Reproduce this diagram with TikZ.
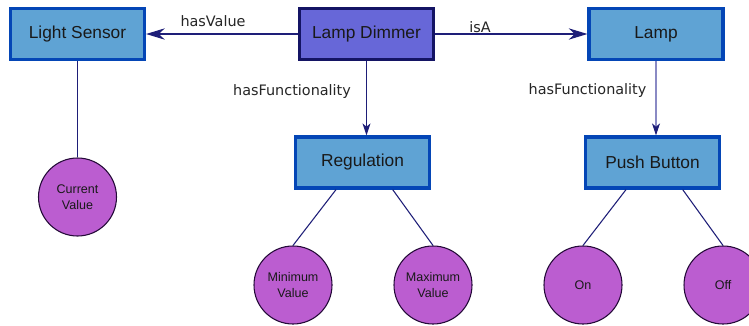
\documentclass[tikz,border=0pt]{standalone}
\usepackage{fontspec}
\setmainfont{Liberation Sans}
\newfontfamily\labelfont{DejaVu Sans}
\usetikzlibrary{arrows.meta,calc}

\definecolor{boxfill}{HTML}{5FA3D4}
\definecolor{boxline}{HTML}{0446B6}
\definecolor{hubfill}{HTML}{6767D8}
\definecolor{hubline}{HTML}{141464}
\definecolor{valfill}{HTML}{BB5DD0}
\definecolor{valline}{HTML}{240A38}
\definecolor{edgecol}{HTML}{1E1E78}
\definecolor{softedge}{HTML}{8A8AC4}

\tikzset{
  concept/.style={draw=boxline, fill=boxfill, line width=2.4pt,
    minimum width=100.5pt, minimum height=38.25pt, inner sep=0pt,
    font=\fontsize{13pt}{15pt}\selectfont, text=black!90},
  hub/.style={concept, draw=hubline, fill=hubfill},
  valuenode/.style={circle, draw=valline, fill=valfill, line width=0.8pt,
    minimum size=58.5pt, inner sep=0pt, align=center,
    font=\fontsize{9.4pt}{12pt}\selectfont, text=black!90},
  relation/.style={draw=edgecol, line width=0.8pt},
  harrow/.style={relation, -{Stealth[length=14pt,width=8.5pt,inset=4.5pt]}},
  varrow/.style={relation, -{Stealth[length=9pt,width=6pt,inset=2.5pt,color=edgecol]}},
  rellabel/.style={font=\labelfont\fontsize{10.8pt}{13pt}\selectfont, text=black!85, inner sep=0pt},
}

\begin{document}
\begin{tikzpicture}[x=0.75pt, y=-0.75pt]
  \clip (0,0) rectangle (749,325);
  \fill[white] (0,0) rectangle (749,325);

  % concept boxes
  \node[concept] (sensor) at (77.5,34) {Light Sensor};
  \node[hub]     (dimmer) at (366.5,34) {Lamp Dimmer};
  \node[concept] (lamp)   at (656,34) {Lamp};
  \node[concept] (reg)    at (362.5,162.5) {Regulation};
  \node[concept] (push)   at (652.5,162.5) {Push Button};

  % value circles
  \node[valuenode] (cur) at (77.5,197) {Current\\Value};
  \node[valuenode] (min) at (293,285) {Minimum\\Value};
  \node[valuenode] (max) at (433,285) {Maximum\\Value};
  \node[valuenode] (on)  at (583,285) {On};
  \node[valuenode] (off) at (723,285) {Off};

  % relations from the dimmer
  \draw[harrow] (dimmer.west) -- (sensor.east);
  \draw[harrow] (dimmer.east) -- (lamp.west);
  \coordinate (dimmerfoot) at (dimmer.south);
  \draw[varrow] (dimmerfoot) -- (dimmerfoot |- reg.north);
  \coordinate (lampfoot) at (lamp.south);
  \draw[varrow, draw=softedge] (lampfoot) -- (lampfoot |- push.north);

  % relation labels
  \node[rellabel] (lbvalue) at (213,21) {hasValue};
  \node[rellabel] (lbisa)   at (480,27) {isA};
  \node[rellabel] (lbfun1)  at (292,92) {hasFunctionality};
  \node[rellabel] (lbfun2)  at (587.5,91) {hasFunctionality};

  % value links
  \draw[relation] (sensor.south) -- (cur.north);
  \draw[relation] ($(reg.south west)!0.307!(reg.south east)$) -- (min.north);
  \draw[relation] ($(reg.south west)!0.72!(reg.south east)$) -- (max.north);
  \draw[relation] ($(push.south west)!0.307!(push.south east)$) -- (on.north);
  \draw[relation] ($(push.south west)!0.72!(push.south east)$) -- (off.north);
\end{tikzpicture}
\end{document}
